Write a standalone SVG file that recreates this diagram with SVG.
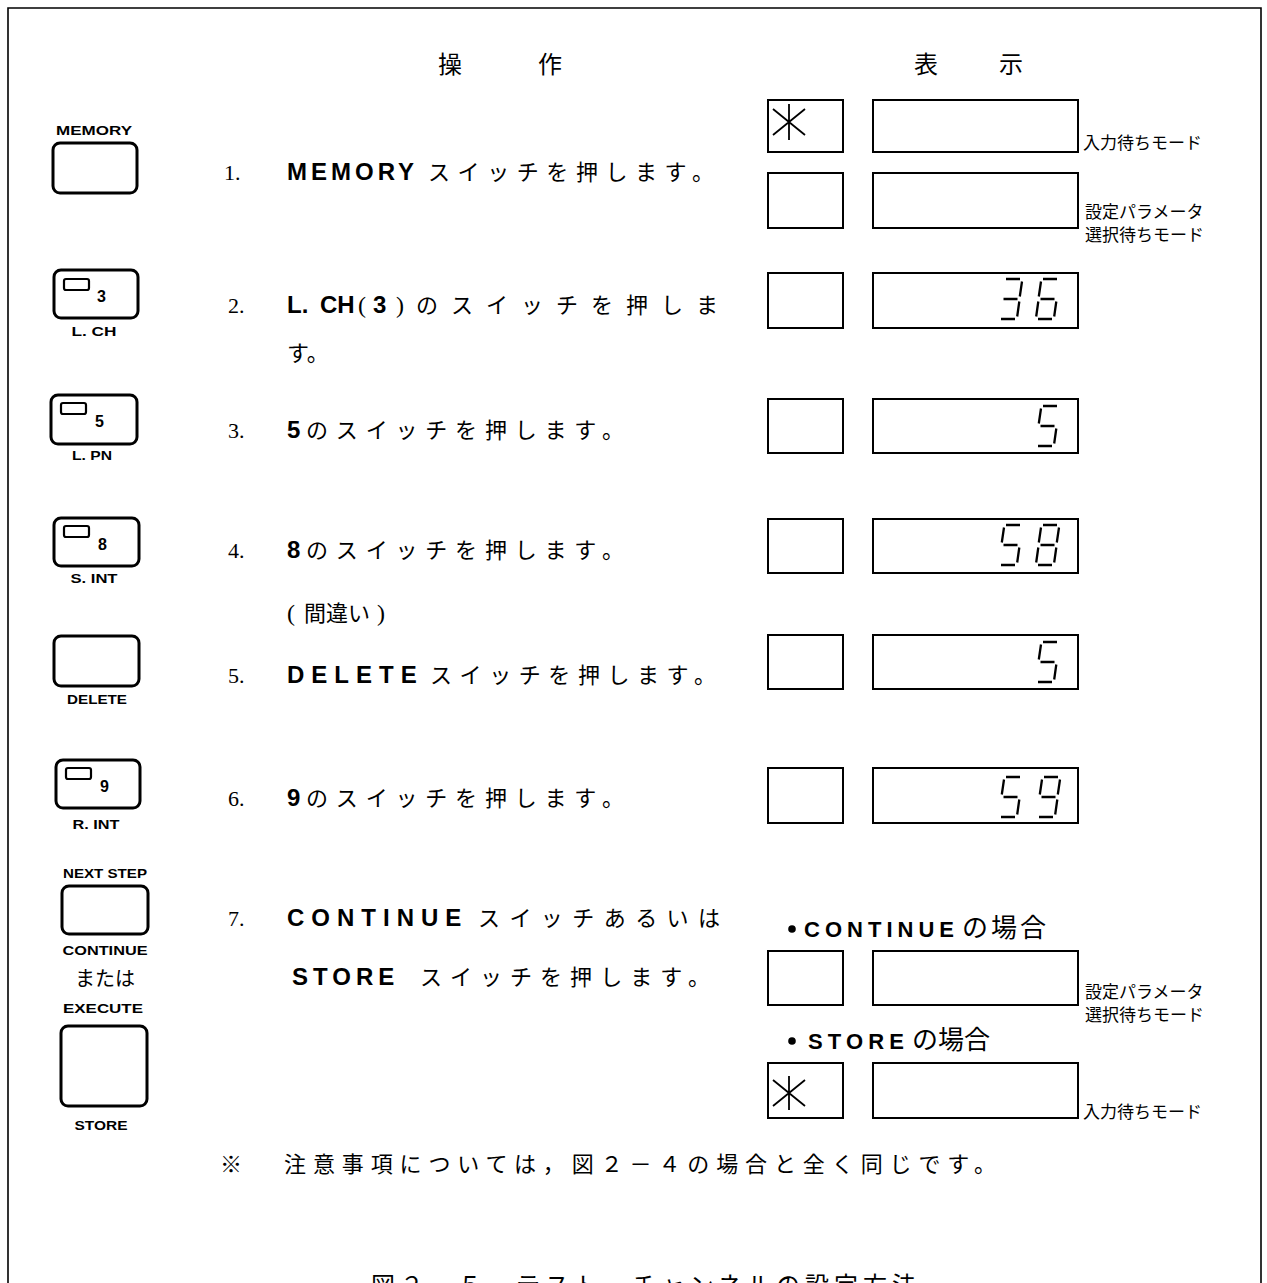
<svg xmlns="http://www.w3.org/2000/svg" xmlns:xlink="http://www.w3.org/1999/xlink" width="1267" height="1283" viewBox="0 0 1267 1283">
<style>
.frame{fill:none;stroke:#000;stroke-width:1.6}
.btn{fill:#fff;stroke:#000;stroke-width:3}
.led{fill:none;stroke:#000;stroke-width:2.2}
.box{fill:none;stroke:#000;stroke-width:2}
.star{fill:none;stroke:#000;stroke-width:1.8}
.seg{fill:none;stroke:#000;stroke-width:2.3}
.lbl{font-family:"Liberation Sans",Arial,sans-serif;font-weight:bold;font-size:12px;text-anchor:middle}
.key{font-family:"Liberation Sans",Arial,sans-serif;font-weight:bold;font-size:16px}
.num{font-family:"Liberation Serif","Times New Roman",serif;font-size:22px}
.paren{font-family:"Liberation Serif","Times New Roman",serif;font-size:24px}
.jp{font-family:"Noto Sans CJK JP",sans-serif;font-size:22px}
.b{font-family:"Liberation Sans",Arial,sans-serif;font-weight:bold;font-size:24px}
.b2{font-family:"Liberation Sans",Arial,sans-serif;font-weight:bold;font-size:22px}
.mode{font-family:"Noto Sans CJK JP",sans-serif;font-size:17px}
.head{font-family:"Noto Sans CJK JP",sans-serif;font-size:24px}
</style>
<defs>
<g id="d3" class="seg"><path d="M7,0H21M23,2.5L20.8,17.5M20.3,22.5L18.2,37.5M2,40H16M4.5,20H18.5"/></g>
<g id="d5" class="seg"><path d="M7,0H21M5,2.5L2.8,17.5M20.3,22.5L18.2,37.5M2,40H16M4.5,20H18.5"/></g>
<g id="d6" class="seg"><path d="M7,0H21M5,2.5L2.8,17.5M2.3,22.5L0.2,37.5M20.3,22.5L18.2,37.5M2,40H16M4.5,20H18.5"/></g>
<g id="d8" class="seg"><path d="M7,0H21M5,2.5L2.8,17.5M23,2.5L20.8,17.5M2.3,22.5L0.2,37.5M20.3,22.5L18.2,37.5M2,40H16M4.5,20H18.5"/></g>
<g id="d9" class="seg"><path d="M7,0H21M5,2.5L2.8,17.5M23,2.5L20.8,17.5M20.3,22.5L18.2,37.5M2,40H16M4.5,20H18.5"/></g>
</defs>
<rect width="1267" height="1283" fill="#fff"/>
<path class="frame" d="M8,1290V8H1261V1290"/>

<g id="header">
<text class="head" x="438" y="73">操</text>
<text class="head" x="538" y="73">作</text>
<text class="head" x="914" y="73">表</text>
<text class="head" x="999" y="73">示</text>
</g>

<g id="buttons">
<g id="btn-memory">
<text class="lbl" x="94" y="135" textLength="76" lengthAdjust="spacingAndGlyphs">MEMORY</text>
<rect class="btn" x="53" y="143" width="84" height="50" rx="7"/>
</g>
<g id="btn-lch">
<rect class="btn" x="54" y="270" width="84" height="48" rx="7"/>
<rect class="led" x="64" y="279" width="25" height="11" rx="2"/>
<text class="key" x="97" y="302">3</text>
<text class="lbl" x="94" y="336" textLength="45" lengthAdjust="spacingAndGlyphs">L. CH</text>
</g>
<g id="btn-lpn">
<rect class="btn" x="51" y="395" width="86" height="49" rx="7"/>
<rect class="led" x="61" y="403" width="25" height="11" rx="2"/>
<text class="key" x="95" y="427">5</text>
<text class="lbl" x="92" y="460" textLength="40" lengthAdjust="spacingAndGlyphs">L. PN</text>
</g>
<g id="btn-sint">
<rect class="btn" x="54" y="518" width="85" height="48" rx="7"/>
<rect class="led" x="64" y="526" width="25" height="11" rx="2"/>
<text class="key" x="98" y="550">8</text>
<text class="lbl" x="94" y="583" textLength="47" lengthAdjust="spacingAndGlyphs">S. INT</text>
</g>
<g id="btn-delete">
<rect class="btn" x="54" y="636" width="85" height="50" rx="7"/>
<text class="lbl" x="97" y="704" textLength="60" lengthAdjust="spacingAndGlyphs">DELETE</text>
</g>
<g id="btn-rint">
<rect class="btn" x="56" y="760" width="84" height="48" rx="7"/>
<rect class="led" x="66" y="768" width="25" height="11" rx="2"/>
<text class="key" x="100" y="792">9</text>
<text class="lbl" x="96" y="829" textLength="47" lengthAdjust="spacingAndGlyphs">R. INT</text>
</g>
<g id="btn-continue">
<text class="lbl" x="105" y="878" textLength="84" lengthAdjust="spacingAndGlyphs">NEXT STEP</text>
<rect class="btn" x="62" y="886" width="86" height="48" rx="7"/>
<text class="lbl" x="105" y="955" textLength="85" lengthAdjust="spacingAndGlyphs">CONTINUE</text>
</g>
<text id="or" class="jp" x="105" y="986" text-anchor="middle" style="font-size:20px">または</text>
<g id="btn-store">
<text class="lbl" x="103" y="1013" textLength="80" lengthAdjust="spacingAndGlyphs">EXECUTE</text>
<rect class="btn" x="61" y="1026" width="86" height="80" rx="7"/>
<text class="lbl" x="101" y="1130" textLength="53" lengthAdjust="spacingAndGlyphs">STORE</text>
</g>
</g>

<g id="steps">
<g id="step1">
<text class="num" x="224" y="180">1.</text>
<text class="b" x="287" y="180" letter-spacing="4">MEMORY</text>
<text class="jp" x="428" y="180" textLength="286" lengthAdjust="spacing">スイッチを押します。</text>
</g>
<g id="step2">
<text class="num" x="228" y="313">2.</text>
<text class="b" x="287" y="313">L.</text>
<text class="b" x="320" y="313">CH</text>
<text class="paren" x="358" y="313">(</text>
<text class="b" x="373" y="313">3</text>
<text class="paren" x="396" y="313">)</text>
<text class="jp" x="416" y="313" textLength="302" lengthAdjust="spacing">のスイッチを押しま</text>
<text class="jp" x="287" y="361">す。</text>
</g>
<g id="step3">
<text class="num" x="228" y="438">3.</text>
<text class="b" x="287" y="438">5</text>
<text class="jp" x="306" y="438" textLength="318" lengthAdjust="spacing">のスイッチを押します。</text>
</g>
<g id="step4">
<text class="num" x="228" y="558">4.</text>
<text class="b" x="287" y="558">8</text>
<text class="jp" x="306" y="558" textLength="318" lengthAdjust="spacing">のスイッチを押します。</text>
<text class="paren" x="287" y="621">(</text>
<text class="jp" x="304" y="621" textLength="66" lengthAdjust="spacing">間違い</text>
<text class="paren" x="377" y="621">)</text>
</g>
<g id="step5">
<text class="num" x="228" y="683">5.</text>
<text class="b" x="287" y="683" letter-spacing="7">DELETE</text>
<text class="jp" x="430" y="683" textLength="286" lengthAdjust="spacing">スイッチを押します。</text>
</g>
<g id="step6">
<text class="num" x="228" y="806">6.</text>
<text class="b" x="287" y="806">9</text>
<text class="jp" x="306" y="806" textLength="318" lengthAdjust="spacing">のスイッチを押します。</text>
</g>
<g id="step7">
<text class="num" x="228" y="926">7.</text>
<text class="b" x="287" y="926" letter-spacing="7">CONTINUE</text>
<text class="jp" x="478" y="926" textLength="242" lengthAdjust="spacing">スイッチあるいは</text>
<text class="b" x="292" y="985" letter-spacing="5">STORE</text>
<text class="jp" x="420" y="985" textLength="290" lengthAdjust="spacing">スイッチを押します。</text>
</g>
</g>

<g id="displays">
<g id="disp1">
<rect class="box" x="768" y="100" width="75" height="52"/>
<path class="star" d="M789,104V140M773,109L805,135M773,135L805,109"/>
<rect class="box" x="873" y="100" width="205" height="52"/>
<text class="mode" x="1083" y="149">入力待ちモード</text>
</g>
<g id="disp2">
<rect class="box" x="768" y="173" width="75" height="55"/>
<rect class="box" x="873" y="173" width="205" height="55"/>
<text class="mode" x="1085" y="218">設定パラメータ</text>
<text class="mode" x="1085" y="241">選択待ちモード</text>
</g>
<g id="disp3">
<rect class="box" x="768" y="273" width="75" height="55"/>
<rect class="box" x="873" y="273" width="205" height="55"/>
<use xlink:href="#d3" href="#d3" x="999" y="279"/>
<use xlink:href="#d6" href="#d6" x="1036" y="279"/>
</g>
<g id="disp4">
<rect class="box" x="768" y="399" width="75" height="54"/>
<rect class="box" x="873" y="399" width="205" height="54"/>
<use xlink:href="#d5" href="#d5" x="1036" y="406"/>
</g>
<g id="disp5">
<rect class="box" x="768" y="519" width="75" height="54"/>
<rect class="box" x="873" y="519" width="205" height="54"/>
<use xlink:href="#d5" href="#d5" x="999" y="525"/>
<use xlink:href="#d8" href="#d8" x="1036" y="525"/>
</g>
<g id="disp6">
<rect class="box" x="768" y="635" width="75" height="54"/>
<rect class="box" x="873" y="635" width="205" height="54"/>
<use xlink:href="#d5" href="#d5" x="1036" y="642"/>
</g>
<g id="disp7">
<rect class="box" x="768" y="768" width="75" height="55"/>
<rect class="box" x="873" y="768" width="205" height="55"/>
<use xlink:href="#d5" href="#d5" x="999" y="777"/>
<use xlink:href="#d9" href="#d9" x="1037" y="777"/>
</g>
<g id="case-continue">
<circle cx="792" cy="929" r="3.8"/>
<text class="b2" x="804" y="937" textLength="150" lengthAdjust="spacing">CONTINUE</text>
<text class="jp" x="962" y="937" textLength="84" lengthAdjust="spacing" style="font-size:26px">の場合</text>
</g>
<g id="disp8">
<rect class="box" x="768" y="951" width="75" height="54"/>
<rect class="box" x="873" y="951" width="205" height="54"/>
<text class="mode" x="1085" y="998">設定パラメータ</text>
<text class="mode" x="1085" y="1021">選択待ちモード</text>
</g>
<g id="case-store">
<circle cx="792" cy="1041" r="3.8"/>
<text class="b2" x="808" y="1049" textLength="96" lengthAdjust="spacing">STORE</text>
<text class="jp" x="912" y="1049" textLength="78" lengthAdjust="spacing" style="font-size:26px">の場合</text>
</g>
<g id="disp9">
<rect class="box" x="768" y="1063" width="75" height="55"/>
<path class="star" d="M789,1076V1110M773,1080L805,1106M773,1106L805,1080"/>
<rect class="box" x="873" y="1063" width="205" height="55"/>
<text class="mode" x="1083" y="1118">入力待ちモード</text>
</g>
</g>

<g id="note">
<text class="jp" x="220" y="1172">※</text>
<text class="jp" x="284" y="1172" textLength="712" lengthAdjust="spacing">注意事項については，図２－４の場合と全く同じです。</text>
</g>
<text id="caption" class="jp" x="371" y="1294" textLength="545" lengthAdjust="spacing" style="font-size:24px">図２－５　テスト・チャンネルの設定方法</text>
</svg>
